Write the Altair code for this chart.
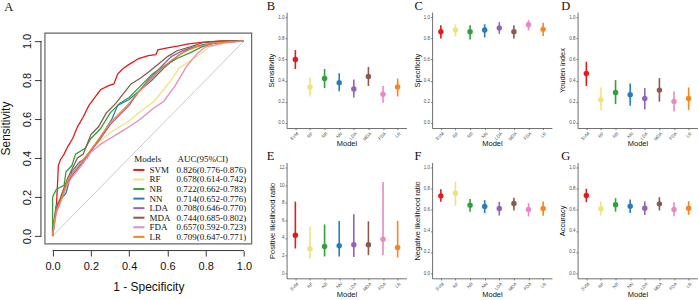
import altair as alt
import pandas as pd

SANS = "Liberation Sans"
SERIF = "Liberation Serif"

MODELS = ["SVM", "RF", "NB", "NN", "LDA", "MDA", "FDA", "LR"]
COLORS = ["#E41A1C", "#F1E37C", "#2FA03A", "#2B7CBC", "#9263B6", "#8C5A4C", "#E68AC3", "#F78520"]
AUC_LABELS = [
    "0.826(0.776-0.876)", "0.678(0.614-0.742)", "0.722(0.662-0.783)", "0.714(0.652-0.776)",
    "0.708(0.646-0.770)", "0.744(0.685-0.802)", "0.657(0.592-0.723)", "0.709(0.647-0.771)",
]

# ROC curve vertices: false positive rate (1 - specificity) and sensitivity
SVM_FPR = [0.0, 0.0, 0.018, 0.025, 0.03, 0.04, 0.06, 0.08, 0.105, 0.13, 0.16, 0.19, 0.22, 0.25, 0.29, 0.32, 0.34, 0.37, 0.40, 0.45, 0.50, 0.54, 0.55, 0.60, 0.66, 0.71, 0.80, 0.90, 1.0]
SVM_TPR = [0.0, 0.05, 0.12, 0.25, 0.36, 0.39, 0.42, 0.46, 0.50, 0.56, 0.61, 0.67, 0.71, 0.75, 0.77, 0.78, 0.83, 0.86, 0.88, 0.91, 0.925, 0.93, 0.955, 0.965, 0.975, 0.985, 0.995, 1.0, 1.0]
RF_FPR = [0.0, 0.01, 0.02, 0.04, 0.07, 0.10, 0.15, 0.20, 0.25, 0.30, 0.35, 0.40, 0.46, 0.53, 0.58, 0.62, 0.66, 0.72, 0.78, 0.82, 0.90, 1.0]
RF_TPR = [0.0, 0.08, 0.15, 0.20, 0.27, 0.31, 0.37, 0.44, 0.49, 0.53, 0.56, 0.59, 0.64, 0.69, 0.75, 0.80, 0.86, 0.90, 0.94, 0.97, 0.99, 1.0]
NB_FPR = [0.0, 0.0, 0.02, 0.06, 0.07, 0.10, 0.12, 0.17, 0.20, 0.25, 0.30, 0.35, 0.40, 0.46, 0.52, 0.58, 0.65, 0.72, 0.78, 0.85, 1.0]
NB_TPR = [0.0, 0.20, 0.24, 0.26, 0.33, 0.36, 0.42, 0.45, 0.50, 0.55, 0.63, 0.68, 0.71, 0.77, 0.83, 0.87, 0.91, 0.94, 0.97, 0.99, 1.0]
NN_FPR = [0.0, 0.01, 0.017, 0.035, 0.07, 0.10, 0.14, 0.18, 0.21, 0.26, 0.31, 0.34, 0.40, 0.46, 0.52, 0.58, 0.65, 0.71, 0.78, 0.88, 1.0]
NN_TPR = [0.0, 0.07, 0.15, 0.18, 0.22, 0.33, 0.38, 0.40, 0.45, 0.52, 0.60, 0.67, 0.70, 0.75, 0.80, 0.86, 0.92, 0.96, 0.98, 0.995, 1.0]
LDA_FPR = [0.0, 0.01, 0.02, 0.05, 0.08, 0.11, 0.15, 0.20, 0.25, 0.30, 0.35, 0.40, 0.45, 0.50, 0.56, 0.62, 0.68, 0.75, 0.85, 1.0]
LDA_TPR = [0.0, 0.10, 0.15, 0.20, 0.28, 0.32, 0.37, 0.44, 0.50, 0.57, 0.62, 0.67, 0.74, 0.80, 0.86, 0.92, 0.95, 0.97, 0.99, 1.0]
MDA_FPR = [0.0, 0.01, 0.017, 0.05, 0.08, 0.105, 0.13, 0.16, 0.20, 0.24, 0.28, 0.33, 0.37, 0.41, 0.46, 0.50, 0.55, 0.60, 0.65, 0.72, 0.78, 0.88, 1.0]
MDA_TPR = [0.0, 0.08, 0.12, 0.22, 0.30, 0.35, 0.40, 0.42, 0.52, 0.56, 0.63, 0.68, 0.73, 0.78, 0.81, 0.84, 0.88, 0.92, 0.95, 0.97, 0.99, 1.0, 1.0]
FDA_FPR = [0.0, 0.01, 0.02, 0.04, 0.07, 0.10, 0.15, 0.20, 0.25, 0.30, 0.35, 0.40, 0.46, 0.52, 0.58, 0.64, 0.70, 0.76, 0.80, 0.90, 1.0]
FDA_TPR = [0.0, 0.06, 0.12, 0.17, 0.25, 0.30, 0.36, 0.43, 0.47, 0.50, 0.53, 0.56, 0.60, 0.65, 0.69, 0.77, 0.87, 0.94, 0.97, 0.99, 1.0]
LR_FPR = [0.0, 0.01, 0.02, 0.05, 0.08, 0.11, 0.15, 0.20, 0.25, 0.30, 0.35, 0.40, 0.45, 0.50, 0.56, 0.62, 0.68, 0.75, 0.85, 1.0]
LR_TPR = [0.0, 0.08, 0.13, 0.20, 0.29, 0.33, 0.38, 0.44, 0.51, 0.58, 0.63, 0.68, 0.74, 0.79, 0.85, 0.90, 0.94, 0.97, 0.99, 1.0]

# Point estimates with 95% confidence limits, in MODELS order
SENS_EST = [0.60, 0.34, 0.42, 0.38, 0.32, 0.44, 0.27, 0.34]
SENS_LO = [0.51, 0.25, 0.33, 0.30, 0.24, 0.35, 0.19, 0.25]
SENS_HI = [0.69, 0.43, 0.51, 0.47, 0.41, 0.53, 0.35, 0.42]

SPEC_EST = [0.865, 0.88, 0.865, 0.88, 0.90, 0.865, 0.93, 0.887]
SPEC_LO = [0.80, 0.82, 0.79, 0.81, 0.845, 0.80, 0.877, 0.823]
SPEC_HI = [0.926, 0.935, 0.926, 0.935, 0.955, 0.926, 0.974, 0.949]

YOUDEN_EST = [0.468, 0.218, 0.288, 0.266, 0.231, 0.31, 0.203, 0.231]
YOUDEN_LO = [0.35, 0.12, 0.177, 0.161, 0.127, 0.20, 0.108, 0.123]
YOUDEN_HI = [0.58, 0.335, 0.405, 0.373, 0.329, 0.424, 0.297, 0.335]

PLR_EST = [4.31, 2.76, 3.03, 3.10, 3.22, 3.22, 3.86, 2.92]
PLR_LO = [2.80, 1.67, 1.89, 1.89, 1.82, 2.04, 2.04, 1.78]
PLR_HI = [8.14, 5.30, 5.53, 5.94, 6.70, 5.90, 10.37, 5.94]

NLR_EST = [0.733, 0.758, 0.645, 0.632, 0.613, 0.66, 0.604, 0.613]
NLR_LO = [0.676, 0.638, 0.582, 0.569, 0.547, 0.594, 0.538, 0.544]
NLR_HI = [0.796, 0.868, 0.704, 0.692, 0.676, 0.714, 0.664, 0.679]

ACC_EST = [0.737, 0.61, 0.648, 0.635, 0.616, 0.657, 0.603, 0.616]
ACC_LO = [0.673, 0.546, 0.584, 0.571, 0.552, 0.594, 0.54, 0.552]
ACC_HI = [0.80, 0.68, 0.711, 0.698, 0.68, 0.72, 0.673, 0.683]

UNIT_TICKS = [0.0, 0.2, 0.4, 0.6, 0.8, 1.0]
PLR_TICKS = [0, 2, 4, 6, 8, 10, 12]

color_scale = alt.Scale(domain=MODELS, range=COLORS)

# ---------------- Panel A: ROC curves ----------------
W_A, H_A = 207, 232
X_DOM = [-0.04, 1.04]
Y_DOM = [-0.04, 1.1475]

roc_rows = []
curves = [
    (SVM_FPR, SVM_TPR), (RF_FPR, RF_TPR), (NB_FPR, NB_TPR), (NN_FPR, NN_TPR),
    (LDA_FPR, LDA_TPR), (MDA_FPR, MDA_TPR), (FDA_FPR, FDA_TPR), (LR_FPR, LR_TPR),
]
for m, (fx, ty) in zip(MODELS, curves):
    for i, (a, b) in enumerate(zip(fx, ty)):
        roc_rows.append({"model": m, "x": a, "y": b, "idx": i})
roc_df = pd.DataFrame(roc_rows)

xs = alt.Scale(domain=X_DOM, nice=False, zero=False)
ys = alt.Scale(domain=Y_DOM, nice=False, zero=False)
x_axis_a = alt.Axis(values=UNIT_TICKS, format=".1f", title="1 - Specificity", domain=False, grid=False,
                    offset=6.7, tickSize=5.5, tickColor="#222", tickWidth=0.9,
                    labelFont=SANS, labelFontSize=11, labelColor="#111", labelPadding=4.5,
                    titleFont=SANS, titleFontSize=12, titleFontWeight="normal", titleColor="#111",
                    titlePadding=10)
y_axis_a = alt.Axis(values=UNIT_TICKS, format=".1f", title="Sensitivity", domain=False, grid=False,
                    offset=4, tickSize=6.5, tickColor="#222", tickWidth=0.9,
                    labelFont=SANS, labelFontSize=11, labelColor="#111", labelAngle=-90,
                    labelAlign="center", labelBaseline="alphabetic", labelPadding=3.5,
                    titleFont=SANS, titleFontSize=12, titleFontWeight="normal", titleColor="#111",
                    titlePadding=9)

def xa(field="x"):
    return alt.X(f"{field}:Q", scale=xs, axis=x_axis_a)

def ya(field="y"):
    return alt.Y(f"{field}:Q", scale=ys, axis=y_axis_a)

frame = alt.Chart(pd.DataFrame({"x": [X_DOM[0]], "x2": [X_DOM[1]], "y": [-0.04], "y2": [1.04]})).mark_rect(
    fill=None, stroke="#666666", strokeWidth=1.2
).encode(x=xa(), x2="x2", y=ya(), y2="y2")

diag = alt.Chart(pd.DataFrame({"x": [0.0], "x2": [1.0], "y": [0.0], "y2": [1.0]})).mark_rule(
    color="#BDBDBD", strokeWidth=0.8
).encode(x=xa(), x2="x2", y=ya(), y2="y2")

roc = alt.Chart(roc_df).mark_line(strokeWidth=1.3).encode(
    x=xa(), y=ya(), order="idx:Q",
    color=alt.Color("model:N", scale=color_scale, legend=None),
)

x_line = alt.Chart(pd.DataFrame({"x": [0.0], "x2": [1.0]})).mark_rule(color="#222", strokeWidth=0.9).encode(
    x=xa(), x2="x2", y=alt.value(H_A + 6.7)
)
y_line = alt.Chart(pd.DataFrame({"y": [0.0], "y2": [1.0]})).mark_rule(color="#222", strokeWidth=0.9).encode(
    y=ya(), y2="y2", x=alt.value(-4)
)

# legend block drawn inside the ROC panel
LEG_TOP, LEG_STEP = 0.339, 0.049
leg_df = pd.DataFrame({
    "model": MODELS,
    "auc": AUC_LABELS,
    "y": [LEG_TOP - i * LEG_STEP for i in range(len(MODELS))],
})
leg_df["x"] = 0.422
leg_df["x2"] = 0.48
leg_df["xl"] = 0.506
leg_df["xa"] = 0.648

leg_lines = alt.Chart(leg_df).mark_rule(strokeWidth=2).encode(
    x=xa(), x2="x2", y=ya(), color=alt.Color("model:N", scale=color_scale, legend=None)
)
leg_names = alt.Chart(leg_df).mark_text(align="left", baseline="middle", font=SERIF, fontSize=9, color="#111").encode(
    x=xa("xl"), y=ya(), text="model:N"
)
leg_auc = alt.Chart(leg_df).mark_text(align="left", baseline="middle", font=SERIF, fontSize=9, color="#111").encode(
    x=xa("xa"), y=ya(), text="auc:N"
)
head_df = pd.DataFrame({"x": [0.427, 0.653], "y": [0.395, 0.395], "t": ["Models", "AUC(95%CI)"]})
leg_head = alt.Chart(head_df).mark_text(align="left", baseline="middle", font=SERIF, fontSize=9, color="#111").encode(
    x=xa(), y=ya(), text="t:N"
)

def letter(ch, dx, dy):
    return alt.Chart(alt.Data(values=[{}])).mark_text(
        text=ch, align="left", baseline="alphabetic", font=SERIF, fontSize=12.5, color="#111"
    ).encode(x=alt.value(dx), y=alt.value(dy))

anchor = alt.Chart(alt.Data(values=[{}])).mark_rect(opacity=0).encode(
    x=alt.value(-44), x2=alt.value(-43), y=alt.value(-12), y2=alt.value(-11)
)

panel_a = alt.layer(
    frame, diag, roc, x_line, y_line, leg_lines, leg_names, leg_auc, leg_head,
    letter("A", -40.7, -1.5), anchor,
).properties(width=W_A, height=H_A)

# ---------------- Panels B-G: point estimates with intervals ----------------
W_P, H_P = 120, 116

def metric_panel(ch, title, est, lo, hi, dom, ticks, fmt, dx, dy):
    df = pd.DataFrame({"model": MODELS, "est": est, "lo": lo, "hi": hi})
    x = alt.X("model:N", sort=MODELS, scale=alt.Scale(type="point", padding=0.6),
              axis=alt.Axis(title="Model", labelAngle=-45, labelAlign="right", labelBaseline="top",
                            labelFont=SANS, labelFontSize=4.5, labelColor="#4D4D4D", labelPadding=1,
                            tickSize=1.6, tickColor="#333", tickWidth=0.6,
                            domainColor="#333", domainWidth=0.7, grid=False,
                            titleFont=SANS, titleFontSize=7.5, titleFontWeight="normal", titleColor="#111",
                            titlePadding=-1))
    yscale = alt.Scale(domain=dom, nice=False, zero=False)
    yaxis = alt.Axis(title=title, values=ticks, format=fmt, grid=False,
                     labelFont=SANS, labelFontSize=4.5, labelColor="#4D4D4D", labelPadding=1,
                     tickSize=1.6, tickColor="#333", tickWidth=0.6,
                     domainColor="#333", domainWidth=0.7,
                     titleFont=SANS, titleFontSize=7.5, titleFontWeight="normal", titleColor="#111",
                     titlePadding=2)
    col = alt.Color("model:N", scale=color_scale, legend=None)
    base = alt.Chart(df)
    bars = base.mark_rule(strokeWidth=1.6).encode(
        x=x, y=alt.Y("lo:Q", scale=yscale, axis=yaxis), y2="hi:Q", color=col
    )
    dots = base.mark_point(filled=True, size=30, opacity=1).encode(
        x=x, y=alt.Y("est:Q", scale=yscale, axis=yaxis), color=col
    )
    return alt.layer(bars, dots, letter(ch, dx, dy)).properties(width=W_P, height=H_P)

U = [-0.05, 1.05]
panels = [
    metric_panel("B", "Sensitivity", SENS_EST, SENS_LO, SENS_HI, U, UNIT_TICKS, ".1f", -19.8, -1.7),
    metric_panel("C", "Specificity", SPEC_EST, SPEC_LO, SPEC_HI, U, UNIT_TICKS, ".1f", -17.5, -1.7),
    metric_panel("D", "Youden index", YOUDEN_EST, YOUDEN_LO, YOUDEN_HI, U, UNIT_TICKS, ".1f", -16.4, -1.7),
    metric_panel("E", "Positive likelihood ratio", PLR_EST, PLR_LO, PLR_HI, [-0.6, 12.6], PLR_TICKS, "d", -19.8, -2.0),
    metric_panel("F", "Negative likelihood ratio", NLR_EST, NLR_LO, NLR_HI, U, UNIT_TICKS, ".1f", -17.5, -2.0),
    metric_panel("G", "Accuracy", ACC_EST, ACC_LO, ACC_HI, U, UNIT_TICKS, ".1f", -16.4, -2.0),
]

grid = alt.concat(*panels, columns=3, spacing={"row": 34.5, "column": 25.7}, bounds="flush")

chart = alt.hconcat(panel_a, grid, spacing=35, bounds="flush").properties(
    padding=0
).configure_view(strokeWidth=0).configure_axis(grid=False)

chart.save("out.html", embed_options={"renderer": "svg", "actions": False})
